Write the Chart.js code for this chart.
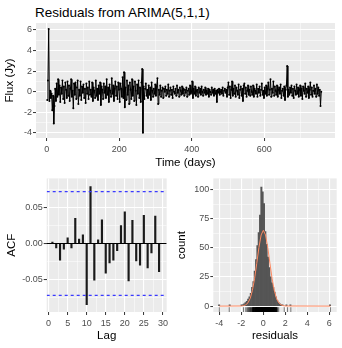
<!DOCTYPE html>
<html>
<head>
<meta charset="utf-8">
<script src="https://cdn.jsdelivr.net/npm/chart.js@4.4.1/dist/chart.umd.min.js"></script>
<style>
  body { margin: 0; background: #fff; width: 342px; height: 348px; overflow: hidden; position: relative; font-family: "Liberation Sans", Arial, sans-serif; }
  canvas { position: absolute; }
  #title { position: absolute; left: 35px; top: 5px; font-size: 13.5px; line-height: 16px; color: #000; white-space: nowrap; }
</style>
</head>
<body>
<div id="title">Residuals from ARIMA(5,1,1)</div>
<canvas id="resChart" width="342" height="172" style="left:0;top:0"></canvas>
<canvas id="acfChart" width="172" height="176" style="left:0;top:172px"></canvas>
<canvas id="histChart" width="170" height="176" style="left:172px;top:172px"></canvas>
<script>
// Residual series (one value every 2 days, starting day 1)
const firstDay = 1;
const dayStep = 2;
const residuals = [
  -0.8, 1.1, 6.1, -0.9, 0.1, -0.6, -0.2, -1.8, -0.4, -3.1,
  -1.4, 0.3, -0.9, 0.8, -0.5, 1.2, -0.3, 0.6, -1.0, 0.4,
  -0.2, 1.1, -0.7, 0.5, -1.1, 0.9, 0.2, -0.6, 1.0, -0.4,
  0.6, -0.9, 0.3, 1.2, -0.5, 0.1, -1.6, 0.8, -0.3, 0.9,
  -0.7, 0.4, 1.1, -1.2, 0.2, -0.4, 1.0, -0.8, 0.5, -0.1,
  0.7, -0.6, 0.3, -1.1, 0.8, -0.2, 0.4, -0.7, 1.0, -0.3,
  0.2, -0.5, 0.9, -0.9, 0.4, 0.1, -0.6, 1.1, -0.4, 0.3,
  -0.8, 0.6, -0.2, 0.9, -1.3, 0.5, 0.2, -0.7, 0.8, -0.1,
  0.5, -0.6, 1.2, -0.3, 0.4, -1.0, 0.7, 0.1, -0.5, 1.3,
  -0.2, 0.6, -0.9, 0.3, 1.0, -0.4, 0.5, -0.7, 0.9, 0.2,
  -1.0, 0.8, 0.3, -0.5, 1.4, -0.6, 1.9, -1.5, 0.4, -0.8,
  1.1, -0.3, 0.6, -1.2, 0.9, 0.2, -0.7, 1.2, -0.4, 0.5,
  -0.9, 1.0, 0.1, -1.3, 0.7, -0.2, 1.1, -0.6, 0.4, -1.0,
  0.9, 2.2, -4.0, 0.5, -0.7, 0.3, 0.8, -0.4, 0.2, -0.6,
  0.6, -0.3, 0.4, -0.8, 0.9, 0.1, -0.5, 0.3, -0.2, 0.7,
  -0.4, 0.5, 1.3, -1.2, 0.2, -0.3, 0.6, -0.5, 0.1, 0.4,
  -0.6, 0.3, 0.0, 0.5, -0.4, 0.2, -0.2, 0.7, -0.5, 0.1,
  0.4, -0.3, 0.2, -0.6, 0.5, 0.0, -0.2, 0.3, -0.4, 0.6,
  -0.1, 0.2, -0.5, 0.4, 0.1, -0.3, 0.5, -0.2, 0.3, -0.4,
  0.2, -0.1, 0.4, -0.5, 0.1, 0.3, -0.3, 0.6, -0.2, 0.0,
  1.0, -0.6, 0.3, -0.2, 0.5, -0.4, 0.1, 0.2, -0.5, 0.4,
  -0.1, 0.3, -0.3, 0.5, 0.0, -0.4, 0.2, -0.1, 0.4, -0.3,
  0.1, -0.2, 0.3, -0.5, 0.2, 0.0, -0.3, 0.4, -0.1, 0.2,
  -0.4, 0.3, -0.2, 0.1, -1.0, 0.2, -0.1, 0.3, -0.3, 0.0,
  0.2, -0.2, 0.4, -0.4, 0.1, 0.3, -0.1, 0.2, -0.5, 0.4,
  0.9, -0.3, 0.5, -0.6, 0.2, 1.0, -0.4, 0.3, -0.2, 0.6,
  -0.5, 0.4, 0.1, -0.3, 0.7, -0.6, 0.2, 0.5, -0.4, 0.3,
  -0.9, 0.6, 0.8, -0.2, 0.4, -0.5, 0.1, 0.6, -0.3, 0.2,
  -0.4, 0.5, 0.0, -0.3, 0.6, -0.5, 0.3, 0.1, -0.2, 0.7,
  -0.5, 0.3, -0.1, 0.5, -0.4, 0.2, 0.8, -0.3, 0.1, -0.6,
  0.4, -0.2, 0.6, -0.4, 0.3, 0.9, -0.3, 0.2, 1.2, -0.5,
  0.3, -0.1, 1.0, -0.4, 0.5, 0.1, -0.3, 0.6, -0.5, 0.2,
  0.4, -0.2, 0.7, -0.6, 0.1, 0.3, -0.4, 0.5, -0.8, 0.2,
  0.6, 2.5, -0.5, 0.2, -0.3, 0.4, -0.1, 0.6, -0.4, 0.3,
  -0.6, 0.5, 0.1, -0.3, 0.7, -0.2, 0.4, -0.5, 0.2, 0.6,
  -0.4, 0.3, -0.7, 0.5, 0.1, -0.2, 0.8, -0.5, 0.3, -0.1,
  0.5, -0.6, 0.2, 0.9, -0.3, 0.4, -0.5, 0.1, 0.6, -0.2,
  0.3, -0.5, 0.7, -0.2, 0.4, -0.4, 0.2, -1.4, 0.0
];
const days = residuals.map((_, i) => firstDay + i * dayStep);

// ACF
const acfLags = [1, 2, 3, 4, 5, 6, 7, 8, 9, 10, 11, 12, 13, 14, 15, 16, 17, 18, 19, 20, 21, 22, 23, 24, 25, 26, 27, 28, 29];
const acfValues = [0.002, -0.006, -0.023, -0.008, 0.008, -0.006, 0.035, 0.006, 0.012, -0.085,
  0.079, -0.051, 0.005, 0.033, -0.041, -0.027, -0.023, -0.010, 0.025, 0.044,
  -0.052, 0.032, -0.024, -0.030, 0.039, -0.034, -0.013, 0.038, -0.039];
const ciLimit = 0.0719;

// Histogram of residuals
const binCenters = [-4.02, -3.06, -1.98, -1.86, -1.74, -1.62, -1.50, -1.38, -1.26, -1.14, -1.02, -0.90, -0.78, -0.66,
  -0.54, -0.42, -0.30, -0.18, -0.06, 0.06, 0.18, 0.30, 0.42, 0.54, 0.66, 0.78, 0.90, 1.02, 1.14,
  1.26, 1.38, 1.50, 1.62, 1.74, 2.10, 2.46, 6.06];
const binCounts = [1, 1, 1, 1, 2, 3, 4, 6, 8, 11, 16, 21, 30, 40,
  52, 63, 78, 102, 98, 88, 64, 53, 42, 33, 25, 20, 16, 12, 8,
  5, 3, 2, 1, 1, 1, 1, 1];
const normalX = [-4.0, -2.0, -1.8, -1.6, -1.4, -1.2, -1.0, -0.8, -0.6, -0.4, -0.2, 0, 0.2, 0.4, 0.6, 0.8, 1.0, 1.2, 1.4, 1.6, 1.8, 2.0, 6.1];
const normalY = [0, 0.1, 0.4, 1.1, 2.8, 6.5, 13.2, 23.4, 36.6, 50.4, 61.0, 65.0, 61.0, 50.4, 36.6, 23.4, 13.2, 6.5, 2.8, 1.1, 0.4, 0.1, 0];

// Tick labels
const resXTicks = [0, 200, 400, 600];
const resYTicks = [-4, -2, 0, 2, 4, 6];
const acfXTicks = [0, 5, 10, 15, 20, 25, 30];
const acfYTicks = [-0.05, 0, 0.05];
const histXTicks = [-4, -2, 0, 2, 4, 6];
const histYTicks = [0, 25, 50, 75, 100];

Chart.defaults.font.family = '"Liberation Sans", Arial, sans-serif';

// grey ggplot panel
const panelBg = {
  id: 'panelBg',
  beforeDraw(chart) {
    const { ctx, chartArea: a } = chart;
    ctx.save();
    ctx.fillStyle = '#ebebeb';
    ctx.fillRect(a.left, a.top, a.right - a.left, a.bottom - a.top);
    ctx.restore();
  }
};

// minor grid positions halfway between major ticks
function midpoints(major, min, max) {
  const step = major[1] - major[0];
  const out = [];
  for (let i = -1; i < major.length; i++) {
    const v = major[0] + step * (i + 0.5);
    if (v > min && v < max) out.push(+v.toFixed(4));
  }
  return out;
}

function axis(cfg) {
  const minor = midpoints(cfg.major, cfg.min, cfg.max);
  const all = cfg.major.concat(minor).sort((a, b) => a - b);
  const isMajor = c => c.tick && cfg.major.includes(c.tick.value);
  return {
    type: 'linear',
    min: cfg.min,
    max: cfg.max,
    offset: false,
    afterBuildTicks: s => { s.ticks = all.map(v => ({ value: v })); },
    afterFit: s => { if (cfg.isX) s.height = cfg.size; else s.width = cfg.size; },
    ticks: {
      autoSkip: false,
      maxRotation: 0,
      padding: cfg.isX ? 3 : 1,
      color: '#4d4d4d',
      font: { size: 9 },
      callback: v => cfg.major.includes(v) ? (cfg.fmt ? cfg.fmt(v) : String(v)) : ''
    },
    grid: {
      offset: false,
      color: '#ffffff',
      lineWidth: c => isMajor(c) ? 1.1 : 0.5,
      tickLength: 3,
      tickWidth: 1,
      tickColor: c => isMajor(c) ? '#333333' : 'rgba(0,0,0,0)'
    },
    border: { display: false },
    title: {
      display: true,
      text: cfg.title,
      color: '#000',
      font: { size: 11.5 },
      padding: cfg.isX ? { top: 0, bottom: cfg.titlePad } : { top: cfg.titlePad, bottom: 0 }
    }
  };
}

const common = {
  responsive: false,
  animation: false,
  devicePixelRatio: 1,
  plugins: { legend: { display: false }, tooltip: { enabled: false } }
};

// Residuals over time
new Chart(document.getElementById('resChart'), {
  type: 'line',
  data: {
    datasets: [{
      data: days.map((d, i) => ({ x: d, y: residuals[i] })),
      borderColor: '#000',
      borderWidth: 1,
      pointRadius: 1,
      pointBackgroundColor: '#000',
      pointBorderWidth: 0,
      tension: 0
    }]
  },
  options: {
    ...common,
    layout: { padding: { top: 23, right: 7, left: 0, bottom: 0 } },
    scales: {
      x: axis({ min: -30, max: 795, major: resXTicks, isX: true, size: 34, title: 'Time (days)', titlePad: 2 }),
      y: axis({ min: -4.5, max: 6.68, major: resYTicks, isX: false, size: 36, title: 'Flux (Jy)', titlePad: 3 })
    }
  },
  plugins: [panelBg]
});

// ACF
new Chart(document.getElementById('acfChart'), {
  type: 'bar',
  data: {
    datasets: [
      {
        type: 'bar',
        order: 3,
        data: acfLags.map((l, i) => ({ x: l, y: acfValues[i] })),
        backgroundColor: '#1a1a1a',
        barThickness: 1.5
      },
      {
        type: 'line',
        order: 2,
        data: [{ x: -0.5, y: 0 }, { x: 31, y: 0 }],
        borderColor: '#000',
        borderWidth: 1,
        pointRadius: 0
      },
      {
        type: 'line',
        order: 1,
        data: [{ x: -0.5, y: ciLimit }, { x: 31, y: ciLimit }],
        borderColor: '#3a3aff',
        borderWidth: 1.1,
        borderDash: [3, 3],
        pointRadius: 0
      },
      {
        type: 'line',
        order: 1,
        data: [{ x: -0.5, y: -ciLimit }, { x: 31, y: -ciLimit }],
        borderColor: '#3a3aff',
        borderWidth: 1.1,
        borderDash: [3, 3],
        pointRadius: 0
      }
    ]
  },
  options: {
    ...common,
    layout: { padding: { top: 4, right: 5.3, left: 0, bottom: 0 } },
    scales: {
      x: axis({ min: -0.5, max: 31, major: acfXTicks, isX: true, size: 36, title: 'Lag', titlePad: 5.6 }),
      y: axis({ min: -0.095, max: 0.0903, major: acfYTicks, isX: false, size: 46.7, title: 'ACF', titlePad: 5, fmt: v => v.toFixed(2) })
    }
  },
  plugins: [panelBg]
});

// Histogram with normal curve and rug
new Chart(document.getElementById('histChart'), {
  type: 'bar',
  data: {
    datasets: [
      {
        type: 'bar',
        order: 3,
        data: binCenters.map((c, i) => ({ x: c, y: binCounts[i] })),
        backgroundColor: '#555555',
        borderWidth: 0,
        barPercentage: 1,
        categoryPercentage: 1
      },
      {
        type: 'line',
        order: 1,
        data: normalX.map((x, i) => ({ x: x, y: normalY[i] })),
        borderColor: '#ff8a62',
        borderWidth: 1,
        pointRadius: 0,
        tension: 0
      },
      {
        type: 'scatter',
        order: 2,
        data: residuals.map(v => ({ x: v, y: -3.2 })),
        pointStyle: 'line',
        rotation: 90,
        radius: 2.6,
        borderColor: '#000',
        borderWidth: 0.5,
        showLine: false
      }
    ]
  },
  options: {
    ...common,
    layout: { padding: { top: 4, right: 5.3, left: 0, bottom: 0 } },
    scales: {
      x: axis({ min: -4.55, max: 6.67, major: histXTicks, isX: true, size: 36, title: 'residuals', titlePad: 5.6 }),
      y: axis({ min: -5.05, max: 109.5, major: histYTicks, isX: false, size: 41.3, title: 'count', titlePad: 2.8 })
    }
  },
  plugins: [panelBg]
});
</script>
</body>
</html>
